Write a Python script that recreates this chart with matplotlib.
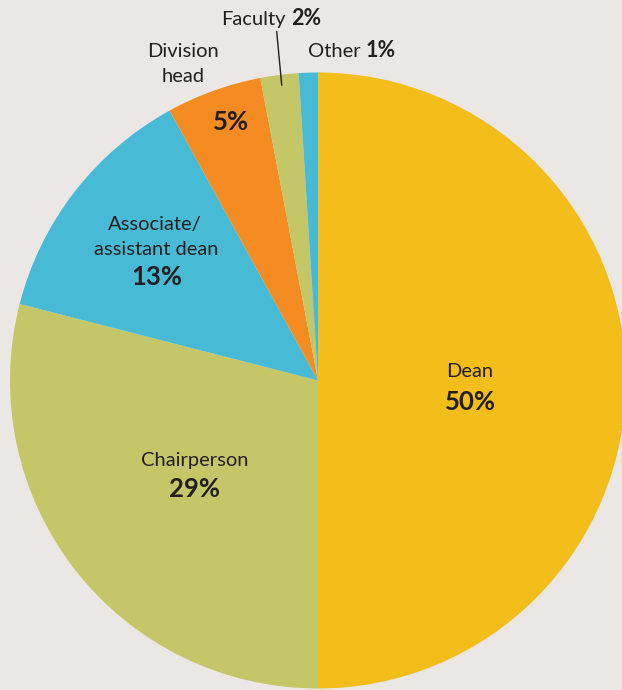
import matplotlib
matplotlib.use("Agg")
import matplotlib.pyplot as plt

categories = ["Dean", "Chairperson", "Associate/\nassistant dean", "Division\nhead", "Faculty", "Other"]
values = [50, 29, 13, 5, 2, 1]
colors = ["#F3BD1A", "#C3C768", "#47BBD5", "#F48C22", "#C3C768", "#47BBD5"]
pct_labels = [f"{v}%" for v in values]

BG = "#EBE7E5"
TXT = "#231F20"
FONT = "Lato"
W, H = 622, 690

fig = plt.figure(figsize=(W / 100, H / 100), dpi=100, facecolor=BG)
ax = fig.add_axes([0, 0, 1, 1])
ax.set_facecolor(BG)
ax.pie(values, colors=colors, startangle=90, counterclock=False,
       center=(318, H - 380.5), radius=308,
       wedgeprops=dict(linewidth=0))
ax.set_xlim(0, W)
ax.set_ylim(0, H)
ax.set_aspect("equal", adjustable="box")
ax.axis("off")

def Y(y):
    return H - y

LS, PS = 14.5, 18.5

def txt(x, y, s, size=LS, weight="normal", ha="center"):
    ax.text(x, Y(y), s, fontsize=size, fontweight=weight, fontstyle="normal",
            ha=ha, va="baseline", color=TXT, family=FONT)

# Dean
txt(470, 377, categories[0])
txt(470, 410, pct_labels[0], PS, "bold")
# Chairperson
txt(195, 466, categories[1])
txt(195, 497, pct_labels[1], PS, "bold")
# Associate / assistant dean
a1, a2 = categories[2].split("\n")
txt(155, 230, a1)
txt(156, 255, a2)
txt(157, 285, pct_labels[2], PS, "bold")
# Division head
d1, d2 = categories[3].split("\n")
txt(183, 57, d1)
txt(183, 82, d2)
txt(231, 130, pct_labels[3], PS, "bold")
# Faculty
txt(286, 25, categories[4], ha="right")
txt(291, 25, pct_labels[4], LS + 1, "bold", ha="left")
ax.plot([276.7, 281.7], [Y(31.7), Y(85)], color=TXT, lw=1)
# Other
txt(361, 57, categories[5], ha="right")
txt(366, 57, pct_labels[5], LS + 1, "bold", ha="left")

fig.savefig("out.png", dpi=100, facecolor=BG)
